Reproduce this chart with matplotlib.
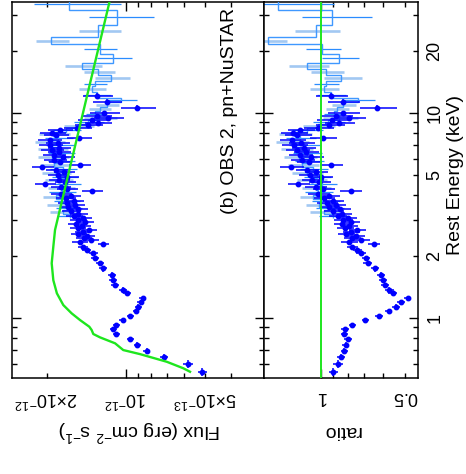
import matplotlib
matplotlib.use("Agg")
import matplotlib.pyplot as plt
import numpy as np
from matplotlib.ticker import FixedLocator, FuncFormatter


FLUX_UNIT = 1e-12  # erg cm^-2 s^-1

# EPIC-pn unfolded spectrum (energy keV, flux in 1e-12, ratio to model, rel. flux error)
PN_E = [0.547, 0.597, 0.647, 0.692, 0.738, 0.790, 0.836, 0.881, 0.924, 0.978,
        1.02, 1.08, 1.135, 1.20, 1.25, 1.32, 1.37, 1.45, 1.53, 1.62,
        1.75, 1.85, 1.96, 2.07, 2.15, 2.22, 2.29,
        2.35, 2.40, 2.45, 2.50, 2.56, 2.62, 2.68, 2.74, 2.80, 2.87,
        2.94, 3.01, 3.08, 3.15, 3.23, 3.31, 3.39, 3.47, 3.56, 3.65,
        3.74, 3.84, 3.94, 4.04, 4.15, 4.26, 4.37, 4.49, 4.61, 4.74,
        4.87, 5.00, 5.14, 5.28, 5.43, 5.58, 5.74, 5.90, 6.07, 6.24,
        6.42, 6.60, 6.79, 6.98, 7.18, 7.38, 7.59, 7.80, 8.02, 8.25,
        8.48, 8.72, 8.96, 9.20, 9.45, 9.70, 9.95, 10.6, 11.3, 12.1]
PN_FLUX = [0.514, 0.582, 0.720, 0.834, 0.905, 0.965, 1.09, 1.12, 1.09, 1.03,
           0.965, 0.916, 0.897, 0.879, 0.864, 0.994, 1.024, 1.10, 1.12, 1.13,
           1.22, 1.26, 1.31, 1.33, 1.41, 1.46, 1.22,
           1.493, 1.357, 1.448, 1.406, 1.515, 1.457, 1.381, 1.525, 1.463, 1.548,
           1.431, 1.516, 1.455, 1.576, 1.515, 1.616, 1.519, 1.654, 1.558, 1.675,
           1.580, 1.694, 1.616, 1.764, 1.342, 1.678, 1.772, 2.035, 1.704, 1.797,
           1.670, 1.812, 1.719, 1.842, 2.078, 1.498, 1.781, 1.869, 1.730, 1.881,
           1.792, 1.909, 1.804, 1.936, 1.817, 1.947, 1.506, 1.850, 1.903, 1.787,
           1.536, 1.394, 1.282, 1.350, 1.167, 1.294, 1.214, 0.907, 1.185, 1.29]
PN_RATIO = [0.90, 0.868, 0.845, 0.822, 0.815, 0.80, 0.822, 0.82, 0.772, 0.692,
            0.62, 0.573, 0.539, 0.518, 0.49, 0.554, 0.57, 0.59, 0.60, 0.61,
            0.64, 0.68, 0.69, 0.72, 0.74, 0.77, 0.645,
            0.79, 0.72, 0.77, 0.75, 0.81, 0.78, 0.74, 0.82, 0.79, 0.84,
            0.78, 0.83, 0.80, 0.87, 0.84, 0.90, 0.85, 0.93, 0.88, 0.95,
            0.90, 0.97, 0.93, 1.02, 0.78, 0.98, 1.04, 1.20, 1.01, 1.07,
            1.00, 1.09, 1.04, 1.12, 1.27, 0.92, 1.10, 1.16, 1.08, 1.18,
            1.13, 1.21, 1.15, 1.24, 1.17, 1.26, 0.98, 1.21, 1.25, 1.18,
            1.02, 0.93, 0.86, 0.91, 0.79, 0.88, 0.83, 0.63, 0.833, 0.917]
PN_RELERR = [0.04, 0.04, 0.035, 0.03, 0.03, 0.03, 0.03, 0.03, 0.03, 0.03,
             0.03, 0.03, 0.03, 0.03, 0.03, 0.035, 0.035, 0.035, 0.035, 0.035,
             0.035, 0.035, 0.035, 0.04, 0.04, 0.045, 0.05,
             0.07, 0.07, 0.07, 0.07, 0.07, 0.07, 0.07, 0.07, 0.07, 0.07,
             0.075, 0.075, 0.075, 0.075, 0.08, 0.08, 0.08, 0.08, 0.08, 0.085,
             0.085, 0.085, 0.085, 0.09, 0.09, 0.09, 0.09, 0.09, 0.09, 0.09,
             0.095, 0.095, 0.095, 0.095, 0.095, 0.095, 0.1, 0.1, 0.1, 0.1,
             0.1, 0.1, 0.1, 0.105, 0.105, 0.105, 0.11, 0.11, 0.11, 0.11,
             0.12, 0.12, 0.12, 0.13, 0.13, 0.13, 0.13, 0.15, 0.13, 0.13]

# NuSTAR FPMA/FPMB binned spectrum (bin edges keV, flux 1e-12, abs err, ratio, module)
NU_EDGES = [3.07, 3.2, 3.35, 3.5, 3.65, 3.82, 4.0, 4.2, 4.4, 4.6,
            4.8, 5.0, 5.2, 5.45, 5.7, 5.95, 6.2, 6.5, 6.8, 7.1,
            7.4, 7.75, 8.1, 8.45, 8.85, 9.25, 9.7, 10.2, 10.7, 11.3,
            11.8, 12.7, 13.5, 14.3, 15.3, 16.4, 17.6, 19.4, 21.6, 23.6,
            26.9, 31.8, 36.2]
NU_FLUX = [1.628, 1.741, 1.655, 1.783, 1.681, 1.840, 1.754, 1.773, 1.674, 1.811,
           1.714, 1.849, 1.736, 1.884, 1.772, 1.902, 1.775, 1.917, 1.792, 1.963,
           1.810, 1.886, 1.690, 1.526, 1.394, 1.265, 1.31, 1.26, 1.185, 1.04,
           1.29, 1.35, 1.31, 1.14, 1.275, 1.47, 1.118, 1.26, 1.92, 1.275,
           1.085, 1.64]
NU_ERR = [0.20, 0.21, 0.19, 0.21, 0.19, 0.22, 0.20, 0.21, 0.19, 0.22,
          0.19, 0.23, 0.20, 0.24, 0.21, 0.25, 0.21, 0.25, 0.22, 0.26,
          0.22, 0.25, 0.21, 0.20, 0.18, 0.18, 0.11, 0.12, 0.12, 0.13,
          0.15, 0.16, 0.13, 0.175, 0.17, 0.24, 0.17, 0.18, 0.28, 0.23,
          0.30, 0.60]
NU_RATIO = [0.90, 0.97, 0.93, 1.01, 0.96, 1.06, 1.02, 1.04, 0.99, 1.08,
            1.03, 1.12, 1.06, 1.16, 1.10, 1.19, 1.12, 1.22, 1.15, 1.27,
            1.18, 1.24, 1.12, 1.02, 0.94, 0.86, 0.895, 0.873, 0.829, 0.734,
            0.92, 0.975, 0.957, 0.843, 0.954, 1.115, 0.861, 0.99, 1.536, 1.041,
            0.91, 1.415]
NU_MODULE = ["A", "B", "A", "B", "A", "B", "A", "B", "A", "B",
             "A", "B", "A", "B", "A", "B", "A", "B", "A", "B",
             "A", "B", "A", "B", "A", "B", "A", "B", "B", "A",
             "A", "B", "A", "B", "B", "B", "A", "A", "B", "B",
             "A", "A"]

# best-fit model curve
MODEL_E = [0.547, 0.569, 0.612, 0.667, 0.698, 0.753, 0.805, 0.836, 0.874, 0.907,
           0.978, 1.054, 1.157, 1.32, 1.53, 1.85, 2.23, 2.69, 36.0]
MODEL_F = [0.571, 0.606, 0.70, 0.885, 1.024, 1.10, 1.255, 1.331, 1.35, 1.378,
           1.495, 1.608, 1.73, 1.83, 1.888, 1.915, 1.888, 1.86, 1.148]

PN_COLOR = "#0000ff"
NU_STEP_COLOR = "#3f98ff"
NU_COLOR = {"A": "#2a8cff", "B": "#a2c8f2"}
NU_LW = {"A": 0.9, "B": 1.9}
MODEL_COLOR = "#1ee61e"

W, H = 466, 474


def fmt_flux(v, pos=None):
    e = int(np.floor(np.log10(v) + 1e-9))
    m = v / 10.0 ** e
    if abs(m - 1) < 1e-3:
        return r"10$^{%d}$" % e
    if abs(m - 2) < 1e-3 or abs(m - 5) < 1e-3:
        return r"%d×10$^{%d}$" % (round(m), e)
    return ""


def fmt_125(v, pos=None):
    e = np.floor(np.log10(v) + 1e-9)
    m = v / 10.0 ** e
    if min(abs(m - 1), abs(m - 2), abs(m - 5)) < 1e-3:
        return "%g" % v
    return ""


def fmt_ratio(v, pos=None):
    e = np.floor(np.log10(v) + 1e-9)
    m = v / 10.0 ** e
    if min(abs(m - 1), abs(m - 5)) < 1e-3:
        return "%g" % v
    return ""


def log_ticks(a, b, subs):
    # log ticks restricted to the visible range only
    lo, hi = sorted((a, b))
    out = []
    for k in range(int(np.floor(np.log10(lo))), int(np.ceil(np.log10(hi))) + 1):
        for s in subs:
            v = s * 10.0 ** k
            if lo * (1 - 1e-9) <= v <= hi * (1 + 1e-9):
                out.append(v)
    return out


def style_axis(ax):
    for s in ax.spines.values():
        s.set_linewidth(1.1)
    ax.tick_params(which="both", direction="in", top=True, bottom=True, left=True, right=True,
                   width=1.0, labelsize=13)
    ax.tick_params(which="major", length=6.5)
    ax.tick_params(which="minor", length=3.3)
    ax.tick_params(axis="x", which="both", labelrotation=180, pad=7)
    ax.xaxis.set_major_locator(FixedLocator(log_ticks(*ax.get_xlim(), [1])))
    ax.xaxis.set_minor_locator(FixedLocator(log_ticks(*ax.get_xlim(), range(2, 10))))


def draw_panel(ax, pn_x, pn_xerr, nu_x, nu_xerr):
    e = np.array(PN_E)
    mids = np.sqrt(e[:-1] * e[1:])
    lo = np.r_[e[0] ** 2 / mids[0], mids]
    hi = np.r_[mids, e[-1] ** 2 / mids[-1]]

    edges = np.array(NU_EDGES)
    centers = np.sqrt(edges[:-1] * edges[1:])
    mods = np.array(NU_MODULE)

    for m in ["B", "A"]:
        sel = mods == m
        ax.errorbar(nu_x[sel], centers[sel], xerr=nu_xerr[sel], fmt="none",
                    ecolor=NU_COLOR[m], elinewidth=NU_LW[m], capsize=0, zorder=2)
    ax.stairs(nu_x, edges, orientation="horizontal", baseline=None,
              color=NU_STEP_COLOR, linewidth=1.0, zorder=3)

    ax.errorbar(pn_x, e, xerr=pn_xerr, yerr=[e - lo, hi - e], fmt="o", ms=3.2,
                color=PN_COLOR, mec=PN_COLOR, elinewidth=1.1, capsize=0, zorder=4)


def main():
    plt.rcParams["font.family"] = ["Liberation Sans", "DejaVu Sans"]
    plt.rcParams["mathtext.fontset"] = "custom"
    plt.rcParams["mathtext.rm"] = "Liberation Sans"
    plt.rcParams["mathtext.it"] = "Liberation Sans:italic"
    plt.rcParams["mathtext.bf"] = "Liberation Sans:bold"

    fig = plt.figure(figsize=(W / 100, H / 100), dpi=100)
    ax_f = fig.add_axes([12 / W, 96 / H, 252 / W, 376.5 / H])
    ax_r = fig.add_axes([264 / W, 96 / H, 154 / W, 376.5 / H], sharey=ax_f)

    for ax in (ax_f, ax_r):
        ax.set_xscale("log")
        ax.set_yscale("log")

    pn_flux = np.array(PN_FLUX) * FLUX_UNIT
    pn_ferr = pn_flux * np.array(PN_RELERR)
    nu_flux = np.array(NU_FLUX) * FLUX_UNIT
    nu_ferr = np.array(NU_ERR) * FLUX_UNIT
    pn_ratio = np.array(PN_RATIO)
    pn_rerr = pn_ratio * np.array(PN_RELERR)
    nu_ratio = np.array(NU_RATIO)
    nu_rerr = nu_ratio * np.array(NU_ERR) / np.array(NU_FLUX)

    draw_panel(ax_f, pn_flux, pn_ferr, nu_flux, nu_ferr)
    ax_f.plot(np.array(MODEL_F) * FLUX_UNIT, MODEL_E, color=MODEL_COLOR, lw=1.7, zorder=6)

    draw_panel(ax_r, pn_ratio, pn_rerr, nu_ratio, nu_rerr)
    ax_r.axvline(1.0, color=MODEL_COLOR, lw=1.4, zorder=6)

    ax_f.set_xlim(2.71e-12, 2.99e-13)
    ax_r.set_xlim(1.59, 0.45)
    ax_f.set_ylim(0.51, 35.0)

    style_axis(ax_f)
    style_axis(ax_r)
    # energy axis is shared, so one set of locators serves both panels
    ax_r.yaxis.set_major_locator(FixedLocator(log_ticks(*ax_r.get_ylim(), [1])))
    ax_r.yaxis.set_minor_locator(FixedLocator(log_ticks(*ax_r.get_ylim(), range(2, 10))))

    ax_f.xaxis.set_major_formatter(FuncFormatter(fmt_flux))
    ax_f.xaxis.set_minor_formatter(FuncFormatter(fmt_flux))
    ax_f.tick_params(axis="y", which="both", labelleft=False, labelright=False)

    ax_r.xaxis.set_major_formatter(FuncFormatter(fmt_ratio))
    ax_r.xaxis.set_minor_formatter(FuncFormatter(fmt_ratio))
    ax_r.yaxis.set_major_formatter(FuncFormatter(fmt_125))
    ax_r.yaxis.set_minor_formatter(FuncFormatter(fmt_125))
    ax_r.tick_params(axis="y", which="both", labelleft=False, labelright=True,
                     labelrotation=90, pad=6)
    for lab in ax_r.get_yticklabels(which="both"):
        lab.set_verticalalignment("center")

    ax_f.text(0.865, 0.709, "(b) OBS 2, pn+NuSTAR", transform=ax_f.transAxes,
              rotation=90, ha="center", va="center", fontsize=14)

    fig.text(139 / W, 1 - 431 / H, "Flux (erg cm$^{-2}$ s$^{-1}$)", rotation=180,
             ha="center", va="center", fontsize=14)
    fig.text(341 / W, 1 - 431 / H, "ratio", rotation=180, ha="center", va="center", fontsize=14)
    fig.text(455 / W, 1 - 175 / H, "Rest Energy (keV)", rotation=90,
             ha="center", va="center", fontsize=14)

    fig.savefig("out.png", dpi=100)
    plt.close(fig)


if __name__ == "__main__":
    main()
